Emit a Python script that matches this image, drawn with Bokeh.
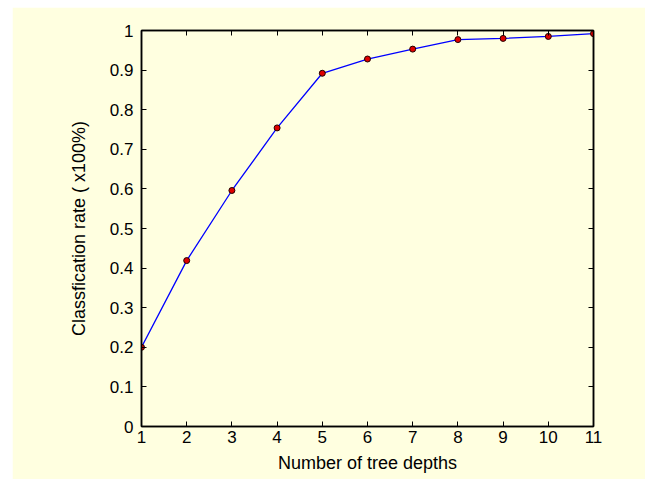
from bokeh.plotting import figure
from bokeh.models import LinearAxis, FixedTicker, Spacer, Row, Column
from bokeh.embed import file_html
from bokeh.resources import INLINE

# data
depths = [1, 2, 3, 4, 5, 6, 7, 8, 9, 10, 11]
rates = [0.200, 0.419, 0.596, 0.754, 0.892, 0.928, 0.953, 0.977, 0.980, 0.985, 0.992]
x_ticks = [1, 2, 3, 4, 5, 6, 7, 8, 9, 10, 11]
y_ticks = [0, 0.1, 0.2, 0.3, 0.4, 0.5, 0.6, 0.7, 0.8, 0.9, 1]
y_tick_labels = ["0", "0.1", "0.2", "0.3", "0.4", "0.5", "0.6", "0.7", "0.8", "0.9", "1"]
x_label = "Number of tree depths"
y_label = "Classfication rate ( x100%)"

BG = "#FFFFE0"
FONT = "Liberation Sans"

p = figure(width=633, height=472, x_range=(1, 11), y_range=(0, 1),
           output_backend="svg", toolbar_location=None,
           min_border_left=129, min_border_right=52, min_border_top=23, min_border_bottom=53,
           background_fill_color=BG, border_fill_color=BG,
           outline_line_color="black", outline_line_width=1.5)
p.grid.visible = False

def style_axis(ax, show_labels):
    ax.axis_line_color = "black"
    ax.axis_line_width = 1.5
    ax.major_tick_in = 5
    ax.major_tick_out = 0
    ax.major_tick_line_color = "black"
    ax.major_tick_line_width = 1
    ax.minor_tick_line_color = None
    ax.major_label_text_font = FONT
    if show_labels:
        ax.major_label_text_color = "black"
        ax.major_label_text_font_size = "17px"
    else:
        ax.major_label_text_color = None
        ax.major_label_text_font_size = "1px"
        ax.major_label_standoff = 0

p.xaxis.ticker = FixedTicker(ticks=x_ticks)
p.yaxis.ticker = FixedTicker(ticks=y_ticks)
p.yaxis.major_label_overrides = {t: l for t, l in zip(y_ticks, y_tick_labels)}
style_axis(p.xaxis[0], True)
style_axis(p.yaxis[0], True)
p.xaxis.major_label_standoff = 4
p.yaxis.major_label_standoff = 8

for ax, lab, so in ((p.xaxis[0], x_label, 7), (p.yaxis[0], y_label, 18)):
    ax.axis_label = lab
    ax.axis_label_text_font = FONT
    ax.axis_label_text_font_size = "18px"
    ax.axis_label_text_font_style = "normal"
    ax.axis_label_text_color = "black"
    ax.axis_label_standoff = so

top = LinearAxis(ticker=FixedTicker(ticks=x_ticks))
style_axis(top, False)
p.add_layout(top, "above")
right = LinearAxis(ticker=FixedTicker(ticks=y_ticks))
style_axis(right, False)
p.add_layout(right, "right")

p.line(depths, rates, line_color="#0000FF", line_width=1.3)
p.scatter(depths, rates, size=6, fill_color="#E00000", line_color="#200000", line_width=1)

layout = Column(Spacer(width=645, height=7),
                Row(Spacer(width=12, height=472), p, spacing=0),
                spacing=0)
open("out.html", "w").write(file_html(layout, INLINE))
